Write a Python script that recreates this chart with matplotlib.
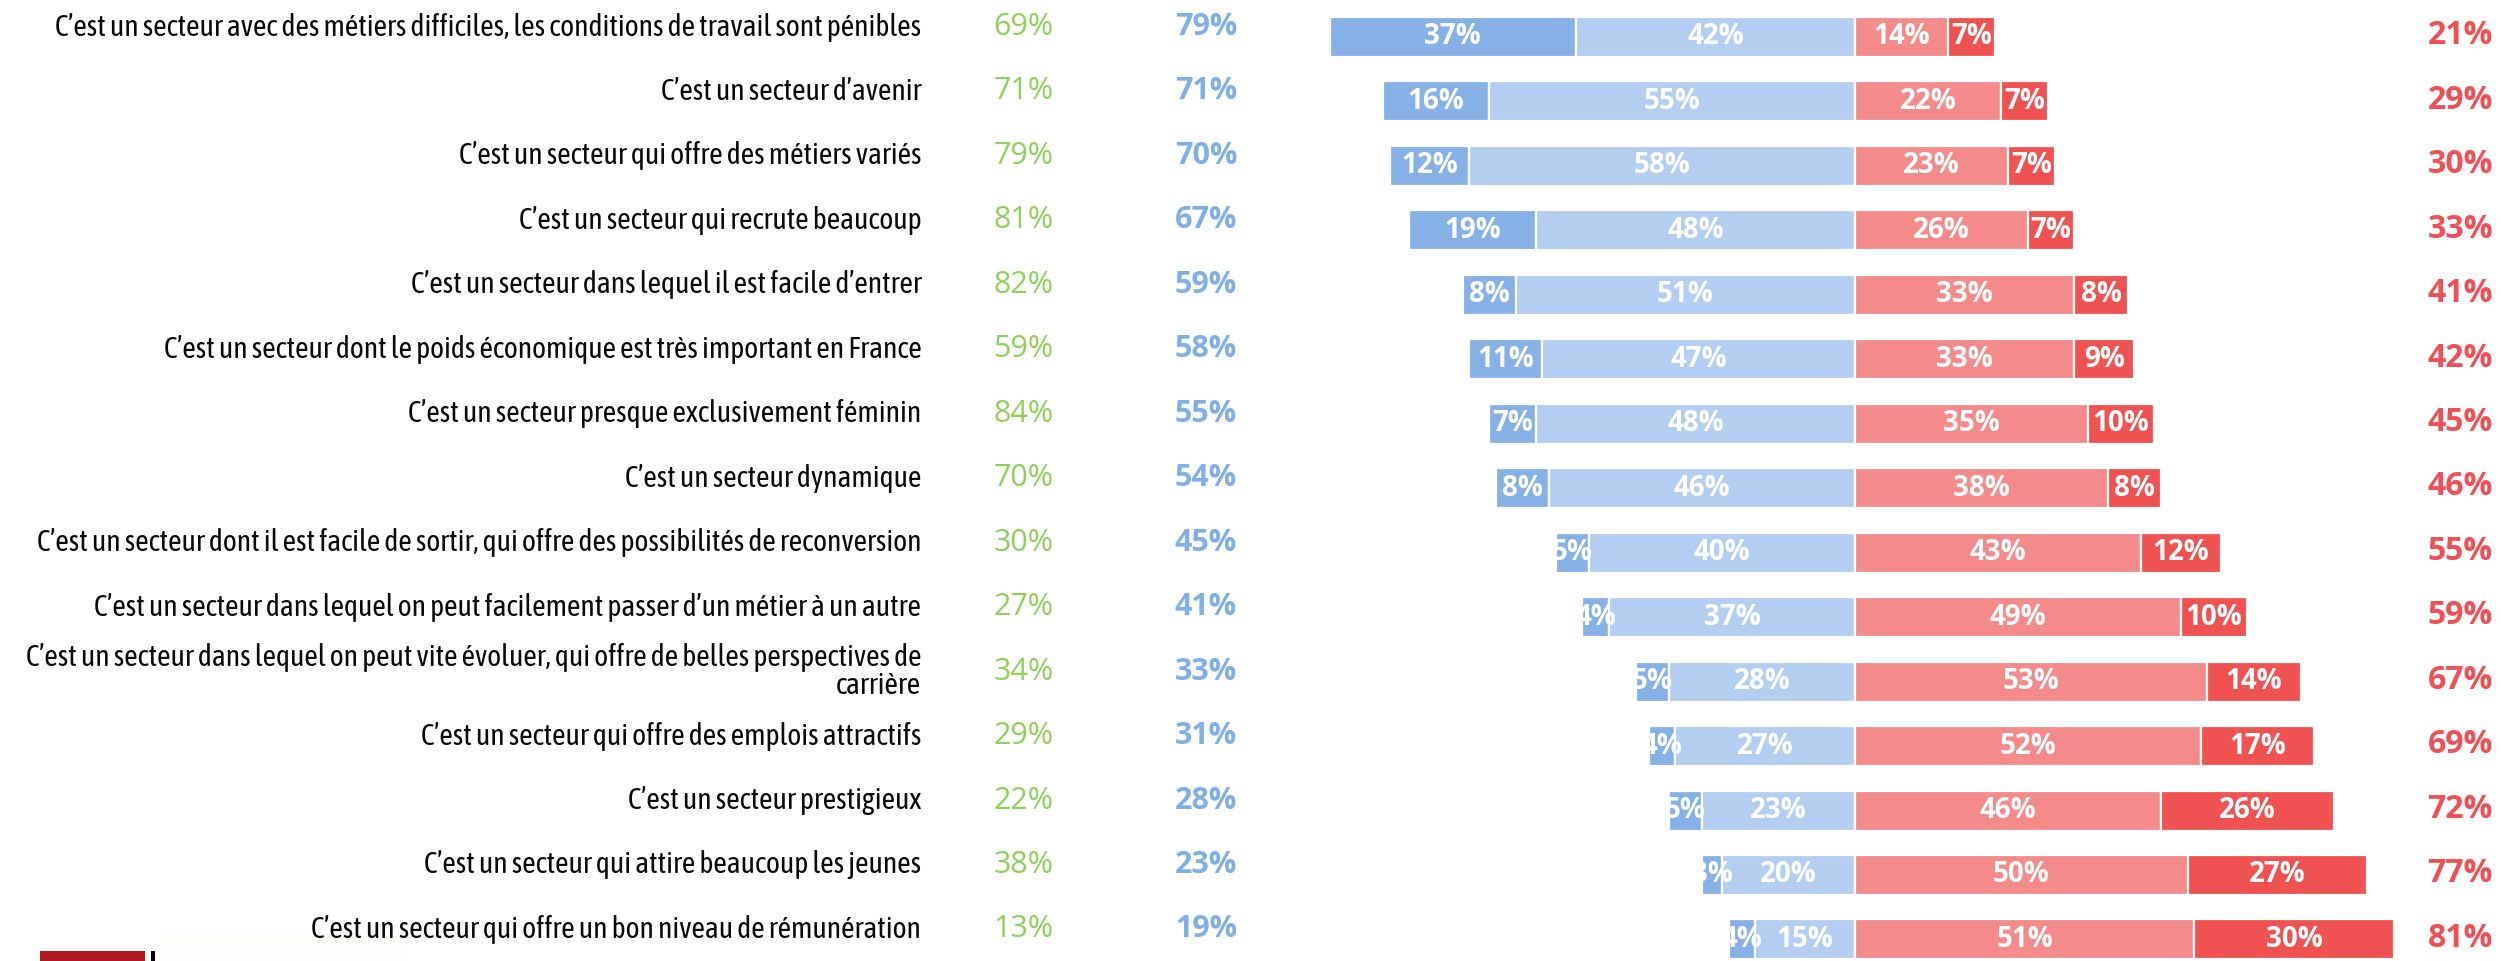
import matplotlib
matplotlib.use('Agg')
import matplotlib.pyplot as plt
from matplotlib.patches import Rectangle

# Row labels (top to bottom)
labels = [
    "C’est un secteur avec des métiers difficiles, les conditions de travail sont pénibles",
    "C’est un secteur d’avenir",
    "C’est un secteur qui offre des métiers variés",
    "C’est un secteur qui recrute beaucoup",
    "C’est un secteur dans lequel il est facile d’entrer",
    "C’est un secteur dont le poids économique est très important en France",
    "C’est un secteur presque exclusivement féminin",
    "C’est un secteur dynamique",
    "C’est un secteur dont il est facile de sortir, qui offre des possibilités de reconversion",
    "C’est un secteur dans lequel on peut facilement passer d’un métier à un autre",
    "C’est un secteur dans lequel on peut vite évoluer, qui offre de belles perspectives de\ncarrière",
    "C’est un secteur qui offre des emplois attractifs",
    "C’est un secteur prestigieux",
    "C’est un secteur qui attire beaucoup les jeunes",
    "C’est un secteur qui offre un bon niveau de rémunération",
]

green_col = [69, 71, 79, 81, 82, 59, 84, 70, 30, 27, 34, 29, 22, 38, 13]
blue_col = [79, 71, 70, 67, 59, 58, 55, 54, 45, 41, 33, 31, 28, 23, 19]
tout_a_fait = [37, 16, 12, 19, 8, 11, 7, 8, 5, 4, 5, 4, 5, 3, 4]
plutot_oui = [42, 55, 58, 48, 51, 47, 48, 46, 40, 37, 28, 27, 23, 20, 15]
plutot_non = [14, 22, 23, 26, 33, 33, 35, 38, 43, 49, 53, 52, 46, 50, 51]
pas_du_tout = [7, 7, 7, 7, 8, 9, 10, 8, 12, 10, 14, 17, 26, 27, 30]
red_col = [21, 29, 30, 33, 41, 42, 45, 46, 55, 59, 67, 69, 72, 77, 81]

c_dark_blue = '#85B1E6'
c_light_blue = '#B3CEF1'
c_pink = '#F48A8A'
c_red = '#F05252'
c_green_txt = '#8ED05A'
c_blue_txt = '#80AEE6'
c_red_txt = '#EF4F55'

label_font = ['Asap Condensed', 'DejaVu Sans']
num_font = ['Open Sans', 'DejaVu Sans']

W, H = 2501, 961
fig = plt.figure(figsize=(W / 100, H / 100), dpi=100)
ax = fig.add_axes([0, 0, 1, 1])

# horizontal scale: zero line at 1855 px, 6.65 px per percent
center_px, px_per = 1855, 6.65
ax.set_xlim(-center_px / px_per, (W - center_px) / px_per)
# vertical: first row centred at 37 px, rows 64.46 px apart
row_px, first_px = 64.46, 37
ax.set_ylim(14 + (H - first_px - 14 * row_px) / row_px, -first_px / row_px)
ax.axis('off')

n = len(labels)
ys = list(range(n))
h = 0.62
ew = 1.6

neg_outer = [a + b for a, b in zip(tout_a_fait, plutot_oui)]
ax.barh(ys, [-v for v in tout_a_fait], left=[-v for v in plutot_oui], height=h,
        color=c_dark_blue, edgecolor='white', linewidth=ew)
ax.barh(ys, [-v for v in plutot_oui], left=0, height=h,
        color=c_light_blue, edgecolor='white', linewidth=ew)
ax.barh(ys, plutot_non, left=0, height=h,
        color=c_pink, edgecolor='white', linewidth=ew)
ax.barh(ys, pas_du_tout, left=plutot_non, height=h,
        color=c_red, edgecolor='white', linewidth=ew)

# labels inside the bars
for i in range(n):
    segs = [
        (-neg_outer[i] + tout_a_fait[i] / 2, tout_a_fait[i]),
        (-plutot_oui[i] / 2, plutot_oui[i]),
        (plutot_non[i] / 2, plutot_non[i]),
        (plutot_non[i] + pas_du_tout[i] / 2, pas_du_tout[i]),
    ]
    for x, v in segs:
        ax.text(x, i, f'{v}%', ha='center', va='center', color='white',
                fontsize=20, fontweight='bold', family=num_font)

# text columns
tr = ax.get_yaxis_transform()
dy = -0.155
for i in range(n):
    ax.text(0.3684, i + dy, labels[i], transform=tr, ha='right', va='center',
            multialignment='right', fontsize=21.4, family=label_font,
            color='#0A0A0A', linespacing=0.95)
    ax.text(0.4092, i + dy, f'{green_col[i]}%', transform=tr, ha='center', va='center',
            fontsize=22, color=c_green_txt, family=num_font)
    ax.text(0.4822, i + dy, f'{blue_col[i]}%', transform=tr, ha='center', va='center',
            fontsize=22, fontweight='bold', color=c_blue_txt, family=num_font)
    ax.text(0.9968, i - 0.02, f'{red_col[i]}%', transform=tr, ha='right', va='center',
            fontsize=23, fontweight='bold', color=c_red_txt, family=num_font)

# logo fragment at the bottom left
fig.patches.append(Rectangle((160 / W, 0), 245 / W, 26 / H, transform=fig.transFigure,
                             facecolor='#FDFDFC', edgecolor='none', zorder=-1))
fig.patches.append(Rectangle((40 / W, 0), 105 / W, 10 / H, transform=fig.transFigure,
                             facecolor='#B01A1E', edgecolor='none'))
fig.patches.append(Rectangle((151 / W, 0), 4 / W, 10 / H, transform=fig.transFigure,
                             facecolor='black', edgecolor='none'))

fig.savefig('out.png', dpi=100)
